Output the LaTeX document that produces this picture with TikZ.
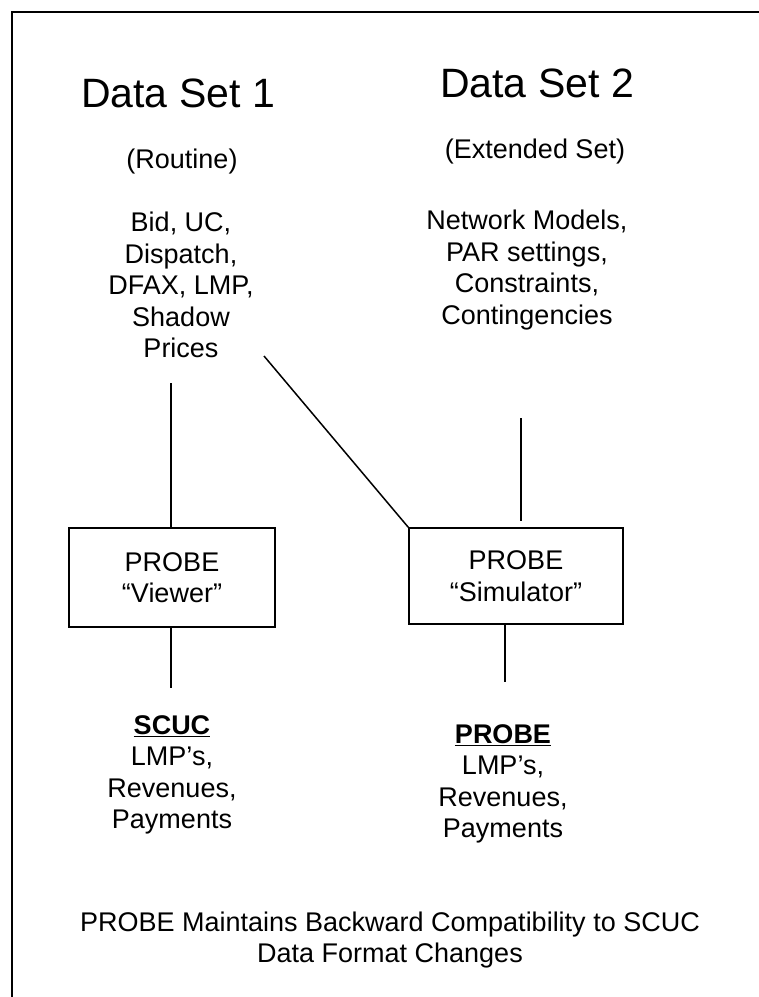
\documentclass[tikz,border=0pt]{standalone}
\usepackage{fontspec}
\setmainfont{Liberation Sans}
\usetikzlibrary{positioning}

\newcommand{\titlesize}{\fontsize{41}{48}\selectfont}
\newcommand{\bodysize}{\fontsize{27}{31.5}\selectfont}

\tikzset{
  settitle/.style={font=\titlesize, inner sep=0pt},
  subtitle/.style={font=\bodysize, inner sep=0pt},
  datalist/.style={font=\bodysize, align=center, inner sep=0pt},
  probebox/.style={draw, font=\bodysize, align=center, inner sep=0pt},
}

\begin{document}
\begin{tikzpicture}[x=1pt, y=-1pt, line width=1.5pt]
  \useasboundingbox (0,0) rectangle (759,997);
  % Frame
  \draw (12,997) -- (12,12) -- (759,12);

  % Data Set 1
  \node[settitle, anchor=base] (ds1) at (178,107) {Data Set 1};
  \node[subtitle] (routine) at (182,162) {(Routine)};
  \node[datalist] (ds1list) at (181,285) {Bid, UC,\\Dispatch,\\DFAX, LMP,\\Shadow\\Prices};

  % Data Set 2
  \node[settitle, anchor=base] (ds2) at (537,97) {Data Set 2};
  \node[subtitle] (extended) at (535,152) {(Extended Set)};
  \node[datalist] (ds2list) at (527,270) {Network Models,\\PAR settings,\\Constraints,\\Contingencies};

  % Boxes
  \node[probebox, minimum width=206pt, minimum height=99pt] (viewer) at (172,577.5) {PROBE\\“Viewer”};
  \node[probebox, minimum width=214pt, minimum height=96pt] (sim) at (516,576) {PROBE\\“Simulator”};

  % Results
  \node[datalist] (scuc) at (172,775) {\textbf{\underline{SCUC}}\\LMP’s,\\Revenues,\\Payments};
  \node[datalist] (probe) at (503,784) {\textbf{\underline{PROBE}}\\LMP’s,\\Revenues,\\Payments};

  % Caption
  \node[datalist] (caption) at (390,940) {PROBE Maintains Backward Compatibility to SCUC\\Data Format Changes};

  % Connectors
  \coordinate (lsTop) at (171,383);
  \coordinate (diagTop) at (264,356);
  \coordinate (rsTop) at (521,418);
  \coordinate (lsBot) at (171,688);
  \coordinate (rsBot) at (505,682);
  \draw (lsTop) -- (lsTop |- viewer.north);
  \draw (diagTop) -- (sim.north west);
  \draw[shorten >=6pt] (rsTop) -- (rsTop |- sim.north);
  \draw (lsBot |- viewer.south) -- (lsBot);
  \draw (rsBot |- sim.south) -- (rsBot);
\end{tikzpicture}
\end{document}
